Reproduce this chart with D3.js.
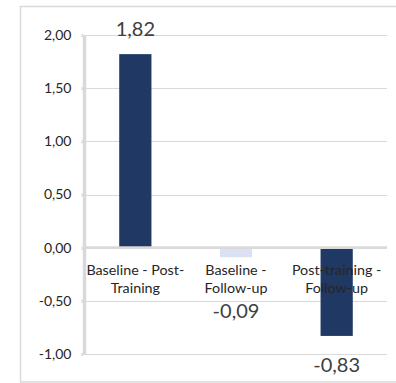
<!DOCTYPE html>
<html>
<head>
<meta charset="utf-8">
<script src="https://cdn.jsdelivr.net/npm/d3@7"></script>
<style>
  body { margin: 0; background: #fff; overflow: hidden; }
  svg { display: block; font-family: Lato, "Liberation Sans", sans-serif; }
</style>
</head>
<body>
<div id="chart"></div>
<script>
// data
var categories = ["Baseline - Post-Training", "Baseline - Follow-up", "Post-training - Follow-up"];
var catLines = [["Baseline - Post-", "Training"], ["Baseline -", "Follow-up"], ["Post-training -", "Follow-up"]];
var values = [1.82, -0.09, -0.83];
var barColors = ["#203864", "#d9e1f2", "#203864"];
var yTicks = [-1, -0.5, 0, 0.5, 1, 1.5, 2];

var width = 396, height = 383;
var plotLeft = 85, plotRight = 387, plotTop = 35, plotBottom = 354;

var svg = d3.select("#chart").append("svg").attr("width", width).attr("height", height);

// outer frame
svg.append("rect")
  .attr("x", 20.5).attr("y", 6.5)
  .attr("width", 390).attr("height", 375.5)
  .attr("fill", "none").attr("stroke", "#d9d9d9").attr("stroke-width", 1.5);

var x = d3.scaleBand().domain(categories).range([plotLeft, plotRight])
  .paddingInner(0.68).paddingOuter(0.34);
var y = d3.scaleLinear().domain([-1, 2]).range([plotBottom, plotTop]);

// comma decimal, plain hyphen for minus
var fmt = function(d){ return d3.format(".2f")(d).replace(".", ",").replace("\u2212", "-"); };

// gridlines
svg.append("g").selectAll("line")
  .data(yTicks.filter(function(d){ return d != 0; }))
  .enter().append("line")
  .attr("x1", plotLeft).attr("x2", plotRight)
  .attr("y1", function(d){ return Math.round(y(d)) + 0.5; })
  .attr("y2", function(d){ return Math.round(y(d)) + 0.5; })
  .attr("stroke", "#d9d9d9").attr("stroke-width", 1);

// y axis
var yA = d3.axisLeft(y).tickValues(yTicks).tickSize(3).tickPadding(10).tickFormat(fmt);
var gy = svg.append("g").attr("transform", "translate(" + (plotLeft - 0.5) + ",0)").call(yA);
gy.select(".domain").attr("stroke", "#d9d9d9").attr("stroke-width", 3.5)
  .attr("d", "M0," + plotTop + "V" + (plotBottom + 1));
gy.selectAll(".tick line").attr("stroke", "#d9d9d9").attr("stroke-width", 3).attr("x1", -1.5);
gy.selectAll(".tick text").attr("fill", "#262626")
  .style("font-size", "14px").style("font-family", "Lato, sans-serif");

// bars
svg.append("g").selectAll("rect")
  .data(values)
  .enter().append("rect")
  .attr("x", function(d, i){ return x(categories[i]); })
  .attr("width", x.bandwidth())
  .attr("y", function(d){ return y(Math.max(0, d)); })
  .attr("height", function(d){ return Math.abs(y(d) - y(0)); })
  .attr("fill", function(d, i){ return barColors[i]; });

// zero line
svg.append("line")
  .attr("x1", plotLeft).attr("x2", plotRight)
  .attr("y1", y(0)).attr("y2", y(0))
  .attr("stroke", "#d9d9d9").attr("stroke-width", 2.7);

// category labels
var cat = svg.append("g").selectAll("text")
  .data(categories)
  .enter().append("text")
  .attr("text-anchor", "middle")
  .attr("fill", "#262626")
  .style("font-size", "14.3px");
cat.each(function(d, i){
  var t = d3.select(this);
  catLines[i].forEach(function(line, j){
    t.append("tspan")
      .attr("x", x(d) + x.bandwidth() / 2)
      .attr("y", y(0) + 27 + j * 18.7)
      .text(line);
  });
});

// value labels
var labelDy = [-18, 61, 36];
svg.append("g").selectAll("text")
  .data(values)
  .enter().append("text")
  .attr("text-anchor", "middle")
  .attr("fill", "#404040")
  .style("font-size", "20px")
  .attr("x", function(d, i){ return x(categories[i]) + x.bandwidth() / 2; })
  .attr("y", function(d, i){ return y(d) + labelDy[i]; })
  .text(fmt);
</script>
</body>
</html>
